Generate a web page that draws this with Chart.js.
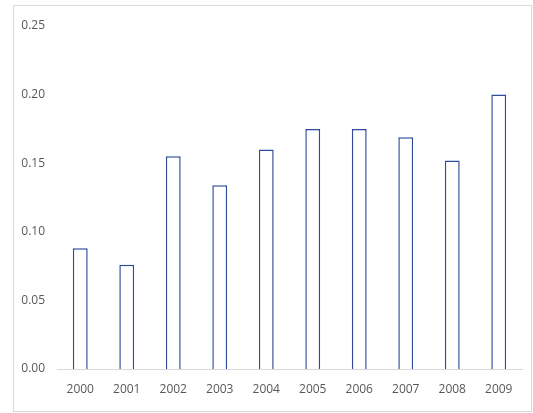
<!DOCTYPE html>
<html>
<head>
<meta charset="utf-8">
<script src="https://cdn.jsdelivr.net/npm/chart.js@4"></script>
<style>
  body { margin: 0; background: #fff; }
  #frame { position: absolute; left: 13px; top: 5px; width: 517px; height: 405px; border: 1px solid #d9d9d9; }
  #wrap { position: absolute; left: 0; top: 0; width: 533px; height: 413px; }
</style>
</head>
<body>
<div id="frame"></div>
<div id="wrap"><canvas id="chart" width="533" height="413"></canvas></div>
<script>
const years = ['2000', '2001', '2002', '2003', '2004', '2005', '2006', '2007', '2008', '2009'];
const values = [0.088, 0.076, 0.155, 0.134, 0.160, 0.175, 0.175, 0.169, 0.152, 0.200];
const yTicks = [0, 0.05, 0.10, 0.15, 0.20, 0.25];

const textColor = '#595959';
const font = { family: 'Open Sans', size: 12 };

new Chart(document.getElementById('chart').getContext('2d'), {
    type: 'bar',
    data: {
        labels: years,
        datasets: [{
            data: values,
            backgroundColor: '#ffffff',
            borderColor: '#2F4B9A',
            borderWidth: 1.5,
            categoryPercentage: 1,
            barPercentage: 0.32
        }]
    },
    options: {
        responsive: false,
        animation: false,
        layout: { padding: { top: 26, right: 11, bottom: 14, left: 0 } },
        plugins: { legend: { display: false }, tooltip: { enabled: false } },
        scales: {
            x: {
                grid: { display: false, drawTicks: false },
                border: { display: true, color: '#d9d9d9', width: 1 },
                ticks: { color: textColor, font: font, padding: 13, maxRotation: 0 },
                afterFit: s => { s.height = 30; }
            },
            y: {
                min: 0,
                max: 0.25,
                afterBuildTicks: s => { s.ticks = yTicks.map(v => ({ value: v })); },
                grid: { display: false, drawTicks: false },
                border: { display: false },
                ticks: { color: textColor, font: font, padding: 12, callback: v => v.toFixed(2) },
                afterFit: s => { s.width = 57; }
            }
        }
    }
});
</script>
</body>
</html>
